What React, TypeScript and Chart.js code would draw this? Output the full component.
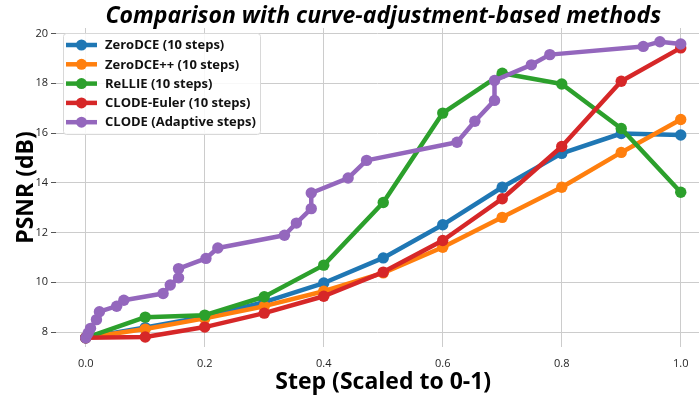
import React, { useEffect, useRef } from "react";
import { Chart, registerables } from "chart.js";

Chart.register(...registerables);

// ---- data ----
const stepX = [0, 0.1, 0.2, 0.3, 0.4, 0.5, 0.6, 0.7, 0.8, 0.9, 1.0];
const zeroDCE = [7.77, 8.18, 8.62, 9.2, 9.97, 10.98, 12.31, 13.82, 15.18, 15.98, 15.92];
const zeroDCEpp = [7.77, 8.12, 8.55, 9.04, 9.64, 10.38, 11.41, 12.61, 13.82, 15.22, 16.54];
const reLLIE = [7.77, 8.6, 8.68, 9.42, 10.69, 13.21, 16.8, 18.4, 17.97, 16.18, 13.62];
const clodeEuler = [7.77, 7.8, 8.2, 8.76, 9.44, 10.41, 11.68, 13.36, 15.46, 18.08, 19.42];
const clodeX = [0, 0.004, 0.008, 0.018, 0.023, 0.052, 0.064, 0.13, 0.142, 0.156, 0.156, 0.202, 0.222, 0.334, 0.354, 0.379, 0.379, 0.441, 0.472, 0.624, 0.654, 0.687, 0.687, 0.749, 0.78, 0.937, 0.965, 1.0];
const clodeY = [7.76, 7.95, 8.15, 8.5, 8.82, 9.04, 9.28, 9.55, 9.89, 10.18, 10.55, 10.96, 11.38, 11.89, 12.38, 12.96, 13.59, 14.19, 14.9, 15.63, 16.47, 17.31, 18.11, 18.74, 19.15, 19.48, 19.67, 19.58];

const seriesNames = [
  "ZeroDCE (10 steps)",
  "ZeroDCE++ (10 steps)",
  "ReLLIE (10 steps)",
  "CLODE-Euler (10 steps)",
  "CLODE (Adaptive steps)",
];
const seriesColors = ["#1f77b4", "#ff7f0e", "#2ca02c", "#d62728", "#9467bd"];
const xTicks = [0, 0.2, 0.4, 0.6, 0.8, 1.0];
const yTicks = [8, 10, 12, 14, 16, 18, 20];
const titleText = "Comparison with curve-adjustment-based methods";
const xLabel = "Step (Scaled to 0-1)";
const yLabel = "PSNR (dB)";

const pairs = (xs: number[], ys: number[]) => xs.map((x, i) => ({ x, y: ys[i] }));

const textPlugin = {
  id: "texts",
  afterDraw(chart: any) {
    const ctx = chart.ctx;
    const xs = chart.scales.x;
    const cx = xs.getPixelForValue(0.5);
    ctx.save();
    ctx.fillStyle = "#000";
    ctx.textAlign = "center";
    ctx.textBaseline = "alphabetic";
    ctx.font = 'italic bold 23px "Open Sans"';
    ctx.fillText(titleText, cx, 23);
    ctx.font = 'bold 23px "Open Sans"';
    ctx.fillText(xLabel, cx, 389);
    ctx.save();
    ctx.translate(33, (chart.chartArea.top + chart.chartArea.bottom) / 2);
    ctx.rotate(-Math.PI / 2);
    ctx.font = 'bold 23px "Open Sans"';
    ctx.fillText(yLabel, 0, 0);
    ctx.restore();

    // legend
    const bx = 63, by = 33, bw = 197, bh = 101;
    ctx.beginPath();
    ctx.roundRect(bx + 0.5, by + 0.5, bw, bh, 3);
    ctx.fillStyle = "rgba(255,255,255,0.85)";
    ctx.fill();
    ctx.strokeStyle = "#d8d8d8";
    ctx.lineWidth = 1;
    ctx.stroke();
    ctx.font = 'bold 13px "Open Sans"';
    ctx.textAlign = "left";
    ctx.textBaseline = "middle";
    seriesNames.forEach((name, i) => {
      const y = 45 + i * 19.3;
      ctx.strokeStyle = seriesColors[i];
      ctx.lineWidth = 4.5;
      ctx.lineCap = "butt";
      ctx.beginPath();
      ctx.moveTo(66, y);
      ctx.lineTo(97, y);
      ctx.stroke();
      ctx.fillStyle = seriesColors[i];
      ctx.beginPath();
      ctx.arc(81.5, y, 5.5, 0, Math.PI * 2);
      ctx.fill();
      ctx.fillStyle = "#111";
      ctx.fillText(name, 105, y + 0.5);
    });
    ctx.restore();
  },
};

export default function App() {
  const ref = useRef<HTMLCanvasElement>(null);
  useEffect(() => {
    if (!ref.current) return;
    const mk = (i: number, data: any[], order: number) => ({
      label: seriesNames[i],
      data,
      borderColor: seriesColors[i],
      backgroundColor: seriesColors[i],
      borderWidth: 4.5,
      pointRadius: 5.7,
      pointBorderWidth: 0,
      pointBackgroundColor: seriesColors[i],
      borderJoinStyle: "round" as const,
      borderCapStyle: "round" as const,
      tension: 0,
      clip: false as any,
      order,
    });
    const chart = new Chart(ref.current, {
      type: "line",
      data: {
        datasets: [
          mk(0, pairs(stepX, zeroDCE), 4),
          mk(1, pairs(stepX, zeroDCEpp), 3),
          mk(2, pairs(stepX, reLLIE), 2),
          mk(3, pairs(stepX, clodeEuler), 1),
          mk(4, pairs(clodeX, clodeY), 0),
        ],
      },
      options: {
        animation: false,
        responsive: true,
        maintainAspectRatio: false,
        layout: { autoPadding: false, padding: { top: 28, left: 0, right: 0, bottom: 0 } },
        plugins: {
          legend: { display: false },
          title: { display: false },
          tooltip: { enabled: false },
        },
        scales: {
          x: {
            type: "linear",
            min: -0.05,
            max: 1.0307,
            afterBuildTicks: (s: any) => {
              s.ticks = xTicks.map((v) => ({ value: v }));
            },
            afterFit: (s: any) => {
              s.height = 49;
              s.paddingLeft = 0;
              s.paddingRight = 0;
            },
            border: { display: false },
            grid: { color: "#cccccc", lineWidth: 1, drawTicks: false },
            ticks: {
              padding: 10,
              color: "#262626",
              font: { family: "Open Sans", size: 11 },
              maxRotation: 0,
              callback: (v: any) => Number(v).toFixed(1),
            },
          },
          y: {
            type: "linear",
            min: 7.4,
            max: 20.22,
            afterBuildTicks: (s: any) => {
              s.ticks = yTicks.map((v) => ({ value: v }));
            },
            afterFit: (s: any) => {
              s.width = 56;
              s.paddingTop = 0;
              s.paddingBottom = 0;
            },
            border: { display: false },
            grid: { color: "#cccccc", lineWidth: 1, drawTicks: true, tickLength: 5, tickColor: "#555" },
            ticks: {
              padding: 3,
              color: "#262626",
              font: { family: "Open Sans", size: 11 },
              callback: (v: any) => String(v),
            },
          },
        },
      },
      plugins: [textPlugin],
    });
    return () => chart.destroy();
  }, []);
  return (
    <div style={{ position: "fixed", left: 0, top: 0, width: 699, height: 396, background: "#fff" }}>
      <canvas ref={ref} />
    </div>
  );
}
